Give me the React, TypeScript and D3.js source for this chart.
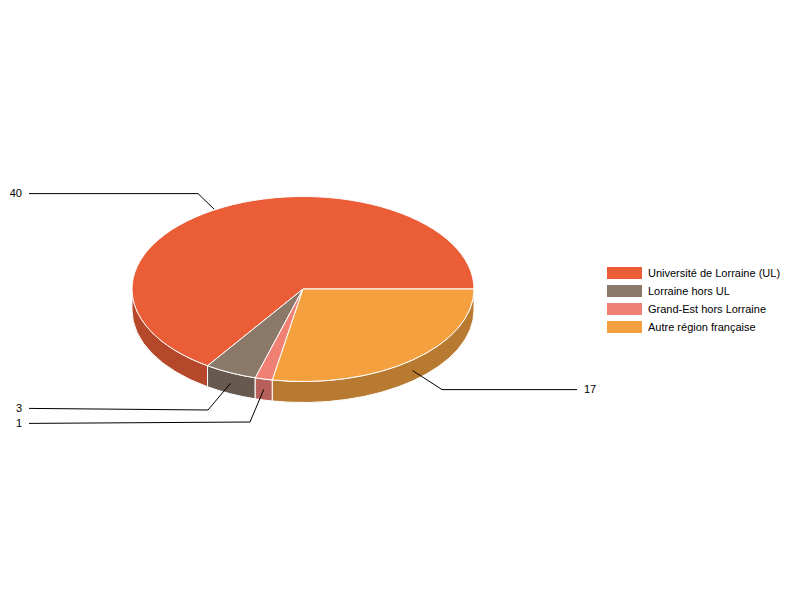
import React from "react";
import * as d3 from "d3";

const categories = ["Université de Lorraine (UL)", "Lorraine hors UL", "Grand-Est hors Lorraine", "Autre région française"];
const values = [40, 3, 1, 17];
const colors = ["#EA5D37", "#8A7868", "#F08074", "#F5A03F"];
const sideColors = ["#B5482A", "#67594E", "#B75F5A", "#B87A30"];
const valueLabels = ["40", "3", "1", "17"];

const W = 800, H = 600;
const cx = 303, cy = 289, rx = 171, ry = 92.5, depth = 21;

// label layout: leader-line start on the left/right, elbow, anchor
const labelLayout = [
  { textX: 22, anchor: "end", y: 193, lineStart: 29, startY: 193.6, elbowX: 198, elbowY: 193.6, tip: [214, 209] },
  { textX: 22, anchor: "end", y: 408, lineStart: 29, startY: 408.4, elbowX: 208, elbowY: 410, tip: null },
  { textX: 22, anchor: "end", y: 423, lineStart: 29, startY: 423.4, elbowX: 250, elbowY: 422, tip: null },
  { textX: 584, anchor: "start", y: 389, lineStart: 577, startY: 389.6, elbowX: 442, elbowY: 389.6, tip: null },
];

const pie = d3.pie<number>().sort(null).startAngle(Math.PI / 2).endAngle(Math.PI / 2 - 2 * Math.PI);
const arcs = pie(values);

// d3 pie angles: 0 at 12 o'clock, clockwise
const px = (a: number) => cx + rx * Math.sin(a);
const py = (a: number) => cy - ry * Math.cos(a);
const unit = d3.arc<any>().innerRadius(0).outerRadius(1);

function wallPath(a0: number, a1: number): string | null {
  // visible front wall: pie angles between PI/2 and 3PI/2
  const tau = 2 * Math.PI;
  const lo = ((a1 % tau) + tau) % tau;
  const hi = lo + (a0 - a1);
  const s = Math.max(lo, Math.PI / 2), e = Math.min(hi, 1.5 * Math.PI);
  if (e <= s) return null;
  return `M${px(s)},${py(s)}A${rx},${ry} 0 0 1 ${px(e)},${py(e)}L${px(e)},${py(e) + depth}A${rx},${ry} 0 0 0 ${px(s)},${py(s) + depth}Z`;
}

export default function App() {
  return (
    <div style={{ position: "fixed", left: 0, top: 0 }}>
      <svg width={W} height={H} style={{ display: "block", background: "#fff", fontFamily: "'Liberation Sans', Arial, sans-serif" }}>
        <g>
          {arcs.map((d, i) => {
            const p = wallPath(d.startAngle, d.endAngle);
            return p ? <path key={i} d={p} fill={sideColors[i]} stroke="#fff" strokeWidth={1} /> : null;
          })}
        </g>
        <g transform={`translate(${cx},${cy}) scale(${rx},${ry})`}>
          {arcs.map((d, i) => (
            <path key={i} d={unit(d) as string} fill={colors[i]} stroke="#fff" strokeWidth={1} vectorEffect="non-scaling-stroke" />
          ))}
        </g>
        <g fill="none" stroke="#000" strokeWidth={1}>
          {arcs.map((d, i) => {
            const mid = (d.startAngle + d.endAngle) / 2;
            const l = labelLayout[i];
            const tip = l.tip ?? [px(mid), py(mid) + depth / 2];
            return <polyline key={i} points={`${l.lineStart},${l.startY} ${l.elbowX},${l.elbowY} ${tip[0]},${tip[1]}`} />;
          })}
        </g>
        <g fontSize={11} fill="#000">
          {labelLayout.map((l, i) => (
            <text key={i} x={l.textX} y={l.y + 4} textAnchor={l.anchor as any}>{valueLabels[i]}</text>
          ))}
        </g>
        <g>
          {categories.map((c, i) => (
            <g key={c} transform={`translate(607,${267 + i * 18})`}>
              <rect width={35} height={12} fill={colors[i]} />
              <text x={41} y={10} fontSize={11} fill="#000">{c}</text>
            </g>
          ))}
        </g>
      </svg>
    </div>
  );
}
